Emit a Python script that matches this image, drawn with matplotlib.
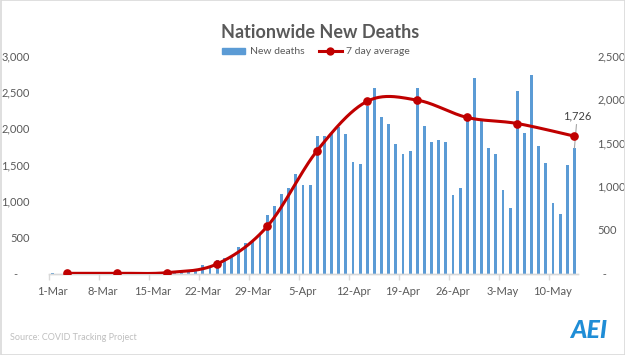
import matplotlib
matplotlib.use("Agg")
import matplotlib.pyplot as plt
import numpy as np
import pandas as pd
from matplotlib.patches import Rectangle
from matplotlib.lines import Line2D

plt.rcParams['font.family'] = ['Lato', 'DejaVu Sans']

# ---------------- data ----------------
start_date = "2020-03-01"
new_deaths = [1, 0, 2, 1, 3, 2, 3, 4, 4, 5, 6, 8, 10, 9, 14, 15,
              15, 18, 22, 30, 45,
              117, 80, 186, 209, 240, 367, 415, 438, 538, 805, 929, 1094, 1181, 1369,
              1218, 1218, 1892, 1892, 1929, 2020, 1920, 1536, 1507, 2305, 2553, 2155,
              2060, 1782, 1644, 1686, 2553, 2030, 1809, 1837, 1809, 1080, 1178, 2120,
              2690, 2112, 1727, 1644, 1149, 901, 2511, 1933, 2731, 1754, 1520, 970,
              819, 1493, 1726]
avg_dates = ["3-Mar", "10-Mar", "17-Mar", "24-Mar", "31-Mar", "7-Apr", "14-Apr",
             "21-Apr", "28-Apr", "5-May", "13-May"]
avg_values = [2, 3, 10, 110, 540, 1410, 1975, 1988, 1789, 1720, 1575]
tick_labels = ["1-Mar", "8-Mar", "15-Mar", "22-Mar", "29-Mar", "5-Apr", "12-Apr",
               "19-Apr", "26-Apr", "3-May", "10-May"]
left_ticks = [0, 500, 1000, 1500, 2000, 2500, 3000]
right_ticks = [0, 500, 1000, 1500, 2000, 2500]
last_label = "1,726"

dates = [f"{d.day}-{d.strftime('%b')}" for d in pd.date_range(start_date, periods=len(new_deaths))]
xs = np.arange(len(new_deaths))

BAR = "#5B9BD5"
RED = "#C00000"
TXT = "#595959"
AX = "#D9D9D9"

W, H = 625, 355
fig = plt.figure(figsize=(W / 100, H / 100), dpi=100)
fig.patch.set_facecolor("white")

def fx(px):
    return px / W

def fy(py):
    return 1 - py / H

left_px, right_px, top_px, bot_px = 49.3, 578.0, 55.5, 273.5
ax = fig.add_axes([fx(left_px), fy(bot_px), fx(right_px - left_px), (bot_px - top_px) / H])
ax2 = ax.twinx()

ax.bar(xs, new_deaths, width=0.4, color=BAR, zorder=2)
ax.set_xlim(-0.5, len(new_deaths) - 0.5)
ax.set_ylim(0, 3000)
ax2.set_ylim(0, 2500)

# smoothed 7-day average (Catmull-Rom style Bezier like Excel smoothing)
px_ = np.array([dates.index(d) for d in avg_dates], dtype=float)
py_ = np.array(avg_values, dtype=float)
P = np.column_stack([px_, py_])
n = len(P)
curve = []
for k in range(n - 1):
    p0 = P[max(k - 1, 0)]
    p1 = P[k]
    p2 = P[k + 1]
    p3 = P[min(k + 2, n - 1)]
    c1 = p1 + (p2 - p0) / 6
    c2 = p2 - (p3 - p1) / 6
    t = np.linspace(0, 1, 40)[:, None]
    seg = ((1 - t) ** 3) * p1 + 3 * ((1 - t) ** 2) * t * c1 + 3 * (1 - t) * t ** 2 * c2 + t ** 3 * p2
    curve.append(seg if k == 0 else seg[1:])
curve = np.vstack(curve)
ax2.plot(curve[:, 0], curve[:, 1], color=RED, lw=2.2, solid_capstyle="round", zorder=3)
ax2.plot(px_, py_, "o", color=RED, ms=5.2, zorder=4)

# data label on last bar
ax.annotate(last_label, xy=(xs[-1], new_deaths[-1]), xytext=(2, 19), textcoords="offset points",
            ha="center", va="bottom", fontsize=8, color="#404040",
            arrowprops=dict(arrowstyle="-", color="#A6A6A6", lw=0.8, shrinkA=0, shrinkB=0),
            zorder=6)

# axes styling
for a in (ax, ax2):
    for s in ("top", "left", "right"):
        a.spines[s].set_visible(False)
    a.spines["bottom"].set_color(AX)
    a.spines["bottom"].set_linewidth(1.0)

def fmt(v):
    return "-" if v == 0 else f"{v:,}"

ax.set_yticks(left_ticks)
ax.set_yticklabels([fmt(v) + ("    " if v == 0 else "") for v in left_ticks])
ax2.set_yticks(right_ticks)
ax2.set_yticklabels([("  " if v == 0 else "") + fmt(v) for v in right_ticks])
ax.tick_params(axis="y", length=0, pad=14, labelsize=8, labelcolor=TXT)
ax2.tick_params(axis="y", length=0, pad=14, labelsize=8, labelcolor=TXT)

major_pos = [dates.index(t) for t in tick_labels]
ax.set_xticks(major_pos)
ax.set_xticklabels(tick_labels)
ax.set_xticks(np.arange(-0.5, len(new_deaths), 7), minor=True)
ax.tick_params(axis="x", which="major", length=0, pad=9, labelsize=8, labelcolor=TXT)
ax.tick_params(axis="x", which="minor", length=4, width=1, color=AX)

# title & legend
fig.text(fx(320), fy(32), "Nationwide New Deaths", ha="center", va="center",
         fontsize=13, fontweight="bold", color=TXT)
handles = [Rectangle((0, 0), 1, 1, color=BAR),
           Line2D([0], [0], color=RED, lw=2.2, marker="o", ms=5)]
fig.legend(handles, ["New deaths", "7 day average"], loc="center",
           bbox_to_anchor=(fx(316), fy(52)), ncol=2, frameon=False, fontsize=7.5,
           labelcolor=TXT, handlelength=2.2, handleheight=0.6, columnspacing=1.4,
           handletextpad=0.4)

# source & logo
fig.text(fx(10), fy(338), "Source: COVID Tracking Project", ha="left", va="center",
         fontsize=6.5, color="#BFBFBF")
fig.text(fx(589), fy(331), "AEI", ha="center", va="center", fontsize=18,
         fontweight="black", fontstyle="italic", color="#1F8DD6")

# border
fig.add_artist(Rectangle((0.0008, 0.0014), 0.9984, 0.9972, transform=fig.transFigure,
                         fill=False, edgecolor=AX, lw=1.2))

fig.savefig("out.png", dpi=100)
